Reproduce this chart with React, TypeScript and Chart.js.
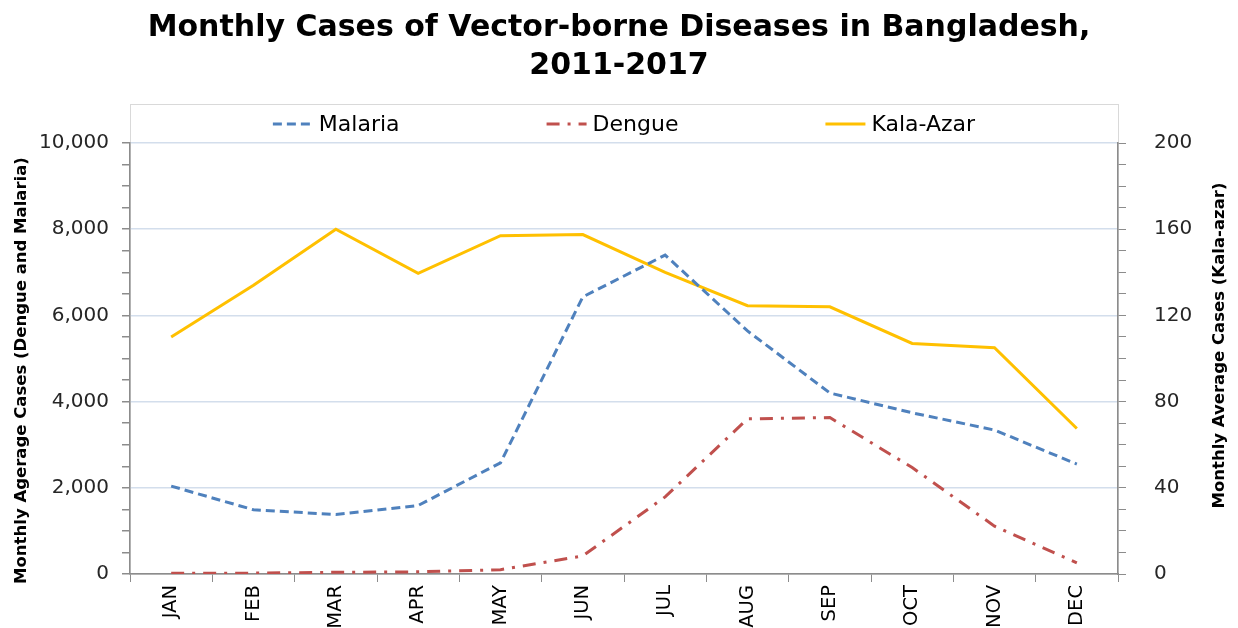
import React, { useEffect, useRef } from "react";
import { Chart, registerables } from "chart.js";

Chart.register(...registerables);

const months = ["JAN", "FEB", "MAR", "APR", "MAY", "JUN", "JUL", "AUG", "SEP", "OCT", "NOV", "DEC"];
const malaria = [2040, 1490, 1380, 1590, 2580, 6430, 7400, 5640, 4200, 3740, 3340, 2550];
const dengue = [20, 20, 40, 50, 100, 420, 1790, 3600, 3630, 2470, 1110, 260];
const kalaAzar = [110, 134, 160, 139.5, 157, 157.5, 140, 124.5, 124, 107, 105, 67.5];

const titleLines = ["Monthly Cases of Vector-borne Diseases in Bangladesh,", "2011-2017"];
const leftTitle = "Monthly Agerage Cases (Dengue and Malaria)";
const rightTitle = "Monthly Average Cases (Kala-azar)";

const FONT = "'DejaVu Sans', sans-serif";
const GRID = "#d3deec";
const AXIS = "#8c8c8c";

const framePlugin = {
  id: "frame",
  beforeDraw(chart: any) {
    const { ctx, chartArea } = chart;
    ctx.save();
    ctx.strokeStyle = "#d9d9d9";
    ctx.lineWidth = 1;
    ctx.strokeRect(chartArea.left + 0.5, chartArea.top - 39 + 0.5, chartArea.right - chartArea.left, chartArea.bottom - chartArea.top + 39);
    ctx.restore();
  },
  afterDraw(chart: any) {
    const { ctx, chartArea } = chart;
    const midY = (chartArea.top + chartArea.bottom) / 2;
    // legend
    ctx.save();
    ctx.font = `22px ${FONT}`;
    ctx.textBaseline = "middle";
    ctx.fillStyle = "#000";
    const lineLen = 40;
    const gap = 6;
    const spacing = 147;
    const items = chart.data.datasets.map((ds: any) => ({
      text: ds.label,
      color: ds.borderColor,
      dash: ds.borderDash || [],
      w: ds.borderWidth,
      tw: ctx.measureText(ds.label).width,
    }));
    const total = items.reduce((s: number, it: any) => s + lineLen + gap + it.tw, 0) + spacing * (items.length - 1);
    let x = (chartArea.left + chartArea.right) / 2 - total / 2;
    const y = chartArea.top - 19;
    items.forEach((it: any) => {
      ctx.strokeStyle = it.color;
      ctx.lineWidth = it.w;
      ctx.setLineDash(it.dash);
      ctx.beginPath();
      ctx.moveTo(x, y);
      ctx.lineTo(x + lineLen, y);
      ctx.stroke();
      ctx.setLineDash([]);
      ctx.fillText(it.text, x + lineLen + gap, y + 1);
      x += lineLen + gap + it.tw + spacing;
    });
    // axis titles (both read bottom to top)
    ctx.font = `bold 16.5px ${FONT}`;
    ctx.textAlign = "center";
    ctx.save();
    ctx.translate(22, midY + 12);
    ctx.rotate(-Math.PI / 2);
    ctx.fillText(leftTitle, 0, 0);
    ctx.restore();
    ctx.save();
    ctx.translate(chart.width - 18, midY - 13);
    ctx.rotate(-Math.PI / 2);
    ctx.fillText(rightTitle, 0, 0);
    ctx.restore();
    ctx.restore();
  },
};

export default function App() {
  const ref = useRef<HTMLCanvasElement | null>(null);
  useEffect(() => {
    if (!ref.current) return;
    const chart = new Chart(ref.current, {
      type: "line",
      data: {
        labels: months,
        datasets: [
          {
            label: "Malaria",
            data: malaria,
            borderColor: "#4f81bd",
            backgroundColor: "#4f81bd",
            borderWidth: 3,
            borderDash: [9, 5],
            pointRadius: 0,
            tension: 0,
            yAxisID: "y",
          },
          {
            label: "Dengue",
            data: dengue,
            borderColor: "#c0504d",
            backgroundColor: "#c0504d",
            borderWidth: 3,
            borderDash: [13, 8, 3, 8],
            pointRadius: 0,
            tension: 0,
            yAxisID: "y",
          },
          {
            label: "Kala-Azar",
            data: kalaAzar,
            borderColor: "#ffc000",
            backgroundColor: "#ffc000",
            borderWidth: 3,
            pointRadius: 0,
            tension: 0,
            yAxisID: "y1",
          },
        ],
      },
      options: {
        responsive: false,
        animation: false,
        layout: { padding: 0 },
        plugins: {
          legend: { display: false },
          tooltip: { enabled: false },
          title: {
            display: true,
            text: titleLines,
            color: "#000",
            font: { family: FONT, size: 30, weight: "bold", lineHeight: 1.27 },
            padding: { top: 9, bottom: 57.8 },
          },
        },
        scales: {
          x: {
            offset: true,
            afterFit: (s: any) => {
              s.height = 54;
            },
            grid: {
              offset: true,
              drawOnChartArea: false,
              tickLength: 8,
              tickColor: AXIS,
            },
            border: { color: AXIS, width: 1.5 },
            ticks: {
              maxRotation: 90,
              minRotation: 90,
              autoSkip: false,
              padding: 3,
              color: "#000",
              font: { family: FONT, size: 19.5 },
            },
          },
          y: {
            position: "left",
            min: 0,
            max: 10000,
            afterFit: (s: any) => {
              s.width = 130;
            },
            grid: {
              color: (c: any) => (c.tick && c.tick.value % 2000 === 0 && c.tick.value !== 0 ? GRID : "rgba(0,0,0,0)"),
              tickColor: AXIS,
              tickLength: 8,
              lineWidth: 1.5,
            },
            border: { color: AXIS, width: 1.5 },
            ticks: {
              stepSize: 500,
              autoSkip: false,
              padding: 13,
              color: "#262626",
              font: { family: FONT, size: 20 },
              callback: (v: any) => (Number(v) % 2000 === 0 ? Number(v).toLocaleString("en-US") : ""),
            },
          },
          y1: {
            position: "right",
            min: 0,
            max: 200,
            afterFit: (s: any) => {
              s.width = 120;
            },
            grid: {
              drawOnChartArea: false,
              tickColor: AXIS,
              tickLength: 8,
            },
            border: { color: AXIS, width: 1.5 },
            ticks: {
              stepSize: 10,
              autoSkip: false,
              padding: 28,
              color: "#262626",
              font: { family: FONT, size: 20 },
              callback: (v: any) => (Number(v) % 40 === 0 ? String(v) : ""),
            },
          },
        },
      },
      plugins: [framePlugin],
    } as any);
    return () => chart.destroy();
  }, []);
  return (
    <div style={{ position: "fixed", left: 0, top: 0, width: 1238, height: 628, background: "#fff" }}>
      <canvas ref={ref} width={1238} height={628} />
    </div>
  );
}
